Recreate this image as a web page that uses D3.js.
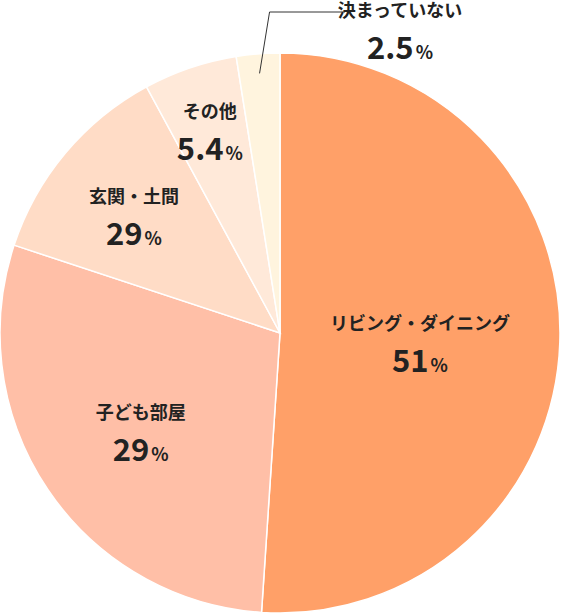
<!DOCTYPE html><html><head><meta charset="utf-8">
<script src="https://cdn.jsdelivr.net/npm/d3@7"></script>
<style>body{margin:0;background:#fff}</style></head><body>
<svg id="c" width="561" height="615"></svg>
<script>
const categories=["リビング・ダイニング","子ども部屋","玄関・土間","その他","決まっていない"];
const values=[51,29,12,5.4,2.5];
const valueLabels=["51","29","29","5.4","2.5"];
const colors=["#ffa068","#ffbfa7","#ffdcc6","#ffe9d9","#fff4de"];
const svg=d3.select("#c"),cx=280,cy=333,R=280;
const g=svg.append("g").attr("transform",`translate(${cx},${cy})`);
const pie=d3.pie().sort(null).value(d=>d)(values);
const arc=d3.arc().innerRadius(0).outerRadius(R);
g.selectAll("path").data(pie).join("path").attr("d",arc).attr("fill",(d,i)=>colors[i]).attr("stroke","#fff").attr("stroke-width",1.5);
const rf=[0.5,0.6,0.68,0.78];
const font="'Noto Sans CJK JP','Noto Sans',sans-serif";
function label(x,y,i){
  const t=svg.append("g").attr("transform",`translate(${x},${y})`).attr("font-family",font).attr("fill","#222").attr("font-weight","bold").attr("text-anchor","middle");
  t.append("text").attr("y",-13).attr("font-size",18).text(categories[i]);
  const n=t.append("text").attr("y",29).attr("font-size",31);
  n.append("tspan").text(valueLabels[i]);
  n.append("tspan").attr("font-size",18).attr("dx",2).text("%");
}
pie.slice(0,4).forEach((d,i)=>{
  const a=(d.startAngle+d.endAngle)/2, r=R*rf[i];
  label(cx+r*Math.sin(a),cy-r*Math.cos(a)+5,i);
});
const d4=pie[4],a4=(d4.startAngle+d4.endAngle)/2,r4=R*0.93;
const px=cx+r4*Math.sin(a4),py=cy-r4*Math.cos(a4);
svg.append("polyline").attr("points",`${px},${py} ${px+10},12 345,12`).attr("fill","none").attr("stroke","#333").attr("stroke-width",1);
label(400,30,4);
</script></body></html>
